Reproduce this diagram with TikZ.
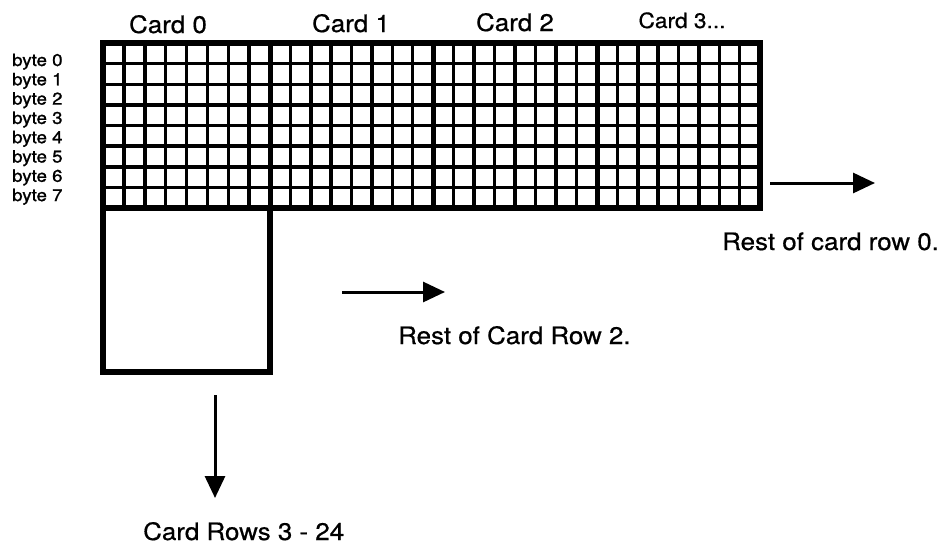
\documentclass[tikz,border=0pt]{standalone}
\usepackage{fontspec}
\setmainfont[FakeStretch=1.08,FakeBold=0.6]{TeX Gyre Heros}
\newfontfamily\bytefont[FakeStretch=1.1,FakeBold=1.2]{TeX Gyre Heros}
\usetikzlibrary{arrows.meta}

\begin{document}
\begin{tikzpicture}[x=1pt,y=-1pt,
  cell/.style={line width=3.5pt},
  edge/.style={line width=6pt},
  lbl/.style={font=\fontsize{24}{28}\selectfont, anchor=base, inner sep=0pt},
  bytelbl/.style={font=\bytefont\fontsize{17}{20}\selectfont, anchor=base west, inner sep=0pt},
  arr/.style={line width=3pt, -{Triangle[length=22pt,width=20pt]}}]
\useasboundingbox (0,0) rectangle (948,544);
% cells of the four cards
\foreach \l/\r in {103/270,270/433,433/597,597/760}{
  \foreach \k in {1,...,7}
    \draw[cell] ({\l+\k*(\r-\l)/8},43)--({\l+\k*(\r-\l)/8},208);
  \draw[line width=5pt] (\r,43)--(\r,208);
}
\foreach \k in {1,...,7}
  \draw[cell] (103,{43+\k*20.625})--(760,{43+\k*20.625});
\draw[edge] (103,43) rectangle (760,208);
% card row below card 0
\draw[edge] (103,208) rectangle (270,372);
\node[lbl] (c0) at (168,33) {Card 0};
\node[lbl] (c1) at (351,32) {Card 1};
\node[lbl] (c2) at (515,31) {Card 2};
\node[lbl, font=\fontsize{21}{25}\selectfont] (c3) at (682,28) {Card 3...};
\foreach \i in {0,...,7}
  \node[bytelbl] (b\i) at (12,{66+19.3*\i}) {byte \i};
% the arrows
\coordinate (r0a) at (770,183);
\coordinate (r0b) at (875,183);
\draw[arr] (r0a)--(r0b);
\node[lbl, anchor=base west] (r0) at (722,250) {Rest of card row 0.};
\coordinate (r2a) at (342,292);
\coordinate (r2b) at (445,292);
\draw[arr] (r2a)--(r2b);
\node[lbl, anchor=base west] (r2) at (398,344) {Rest of Card Row 2.};
\coordinate (dna) at (215,395);
\coordinate (dnb) at (215,498);
\draw[arr] (dna)--(dnb);
\node[lbl, anchor=base west] (rows) at (143,540) {Card Rows 3 - 24};
\end{tikzpicture}
\end{document}
